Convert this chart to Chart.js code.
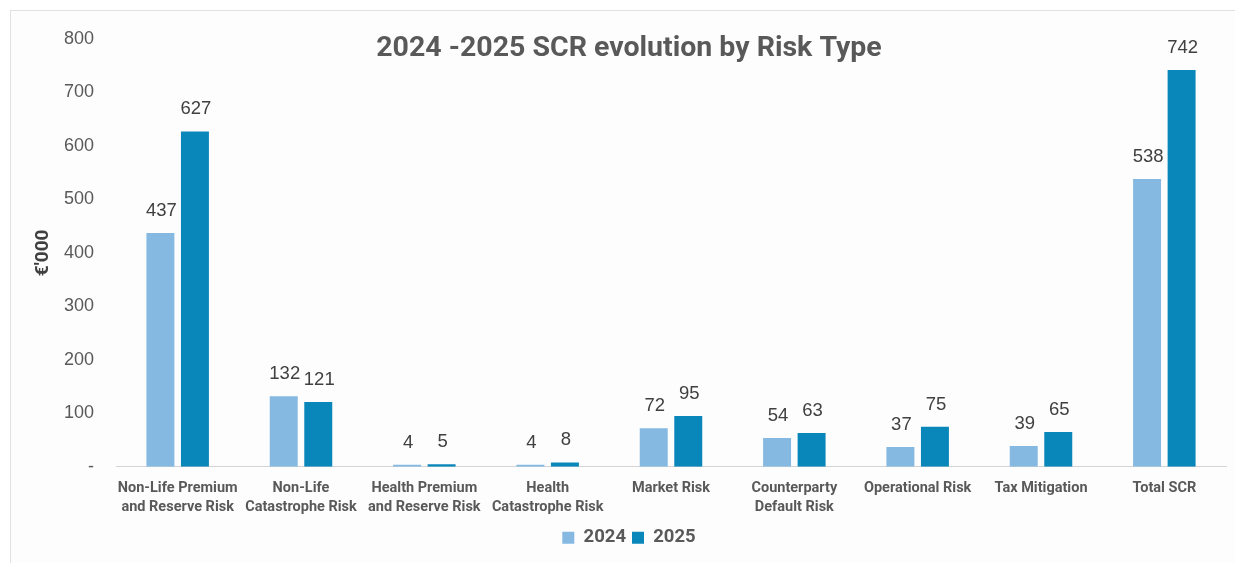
<!DOCTYPE html>
<html><head><meta charset="utf-8">
<script src="https://cdn.jsdelivr.net/npm/chart.js@4.4.1/dist/chart.umd.min.js"></script>
<style>
html,body{margin:0;padding:0;background:#fff;overflow:hidden;}
#frame{position:absolute;left:10px;top:10px;width:1260px;height:600px;border:1px solid #e2e2e2;box-sizing:border-box;background:#fefdfe;}
#wrap{position:absolute;left:0;top:0;width:1235px;height:563px;}
</style></head>
<body>
<div id="frame"></div>
<div id="wrap"><canvas id="c" width="1235" height="563"></canvas></div>
<script>
const categories = [
  ["Non-Life Premium","and Reserve Risk"],
  ["Non-Life","Catastrophe Risk"],
  ["Health Premium","and Reserve Risk"],
  ["Health","Catastrophe Risk"],
  ["Market Risk"],
  ["Counterparty","Default Risk"],
  ["Operational Risk"],
  ["Tax Mitigation"],
  ["Total SCR"]
];
const values2024 = [437, 132, 4, 4, 72, 54, 37, 39, 538];
const values2025 = [627, 121, 5, 8, 95, 63, 75, 65, 742];
const seriesNames = ["2024", "2025"];
const titleText = "2024 -2025 SCR evolution by Risk Type";
const yTitle = "€'000";

const labelPlugin = {
  id: 'valLabels',
  afterDatasetsDraw(chart) {
    const ctx = chart.ctx;
    ctx.save();
    ctx.font = '18.5px "Liberation Sans", Arial, sans-serif';
    ctx.fillStyle = '#404040';
    ctx.textAlign = 'center';
    ctx.textBaseline = 'bottom';
    chart.data.datasets.forEach((ds, i) => {
      const meta = chart.getDatasetMeta(i);
      meta.data.forEach((bar, j) => {
        ctx.fillText(String(ds.data[j]), bar.x + 1, bar.y - 13);
      });
    });
    ctx.restore();
  }
};
const titlePlugin = {
  id: 'inTitle',
  afterDraw(chart) {
    const ctx = chart.ctx;
    ctx.save();
    ctx.font = 'bold 28.5px Roboto, "Noto Sans", sans-serif';
    ctx.fillStyle = '#595959';
    ctx.textAlign = 'center';
    ctx.textBaseline = 'middle';
    ctx.fillText(titleText, 629, 49);
    ctx.restore();
  }
};

new Chart(document.getElementById('c'), {
  type: 'bar',
  data: {
    labels: categories,
    datasets: [
      { label: seriesNames[0], data: values2024, backgroundColor: '#85b9e1' },
      { label: seriesNames[1], data: values2025, backgroundColor: '#0a87ba' }
    ]
  },
  options: {
    responsive: false,
    animation: false,
    devicePixelRatio: 1,
    layout: { padding: { left: 32, right: 9, top: 39, bottom: 6 } },
    datasets: { bar: { categoryPercentage: 0.56, barPercentage: 0.81 } },
    plugins: {
      legend: {
        position: 'bottom',
        labels: {
          boxWidth: 12, boxHeight: 12, padding: 6,
          color: '#595959',
          font: { family: 'Roboto, "Noto Sans", sans-serif', size: 18.5, weight: 'bold' }
        }
      },
      title: { display: false },
      tooltip: { enabled: false }
    },
    scales: {
      x: {
        afterFit(scale) { scale.height -= 6; },
        grid: { display: false, drawTicks: false },
        border: { display: true, color: '#d4d4d4', width: 1 },
        ticks: {
          color: '#595959', padding: 12, maxRotation: 0, autoSkip: false,
          font: { family: 'Roboto, "Noto Sans", sans-serif', size: 14.5, weight: 'bold', lineHeight: 1.3 }
        }
      },
      y: {
        min: 0, max: 800,
        afterFit(scale) { scale.width = 84; },
        grid: { display: false, drawTicks: false },
        border: { display: false },
        title: {
          display: true, text: yTitle, color: '#404040', padding: { top: 0, bottom: 8 },
          font: { family: 'Roboto, "Noto Sans", sans-serif', size: 19, weight: 'bold' }
        },
        ticks: {
          stepSize: 100, padding: 22, color: '#595959',
          font: { family: '"Liberation Sans", Arial, sans-serif', size: 18 },
          callback: (v) => v === 0 ? '-' : v
        }
      }
    }
  },
  plugins: [labelPlugin, titlePlugin]
});
</script>
</body></html>
